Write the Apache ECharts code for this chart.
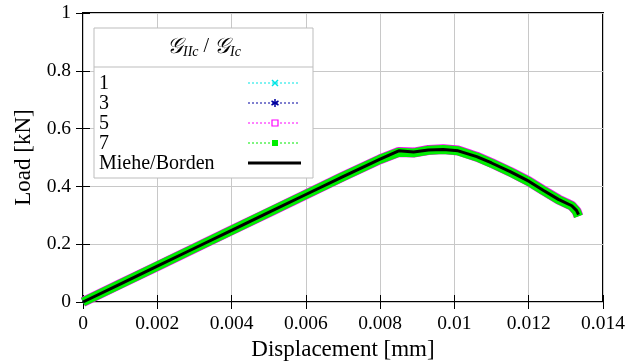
<!DOCTYPE html>
<html><head><meta charset="utf-8">
<script src="https://cdn.jsdelivr.net/npm/echarts@6/dist/echarts.min.js"></script>
<style>html,body{margin:0;padding:0;background:#fff}#c{width:625px;height:363px}</style>
</head><body><div id="c"></div>
<script>
const dispX = [0, 0.001, 0.002, 0.003, 0.004, 0.005, 0.006, 0.007, 0.008, 0.0085, 0.0089, 0.0093, 0.0097, 0.0101, 0.0106, 0.011, 0.0115, 0.012, 0.0124, 0.0128, 0.01316, 0.01329, 0.01334];
const loadRatio1 = [0, 0.062, 0.124, 0.186, 0.248, 0.31, 0.372, 0.434, 0.494, 0.521, 0.518, 0.526, 0.528, 0.523, 0.503, 0.481, 0.451, 0.418, 0.386, 0.355, 0.333, 0.315, 0.298];
const loadRatio3 = [0, 0.062, 0.124, 0.186, 0.248, 0.31, 0.372, 0.434, 0.494, 0.521, 0.518, 0.526, 0.528, 0.523, 0.503, 0.481, 0.451, 0.418, 0.386, 0.355, 0.333, 0.315, 0.298];
const loadRatio5 = [0, 0.062, 0.124, 0.186, 0.248, 0.31, 0.372, 0.434, 0.494, 0.519, 0.517, 0.526, 0.529, 0.524, 0.503, 0.481, 0.451, 0.418, 0.386, 0.355, 0.333, 0.314, 0.297];
const loadRatio7 = [0, 0.062, 0.124, 0.186, 0.248, 0.31, 0.372, 0.434, 0.494, 0.518, 0.516, 0.525, 0.528, 0.523, 0.502, 0.480, 0.450, 0.417, 0.385, 0.354, 0.332, 0.313, 0.296];
const loadMiehe = [0, 0.062, 0.124, 0.186, 0.248, 0.31, 0.372, 0.434, 0.494, 0.523, 0.519, 0.526, 0.528, 0.523, 0.503, 0.481, 0.451, 0.418, 0.386, 0.355, 0.333, 0.316, 0.302];
const xTicks = [0, 0.002, 0.004, 0.006, 0.008, 0.01, 0.012, 0.014];
const yTicks = [0, 0.2, 0.4, 0.6, 0.8, 1];
const legendNames = ['1', '3', '5', '7', 'Miehe/Borden'];

const chart = echarts.init(document.getElementById('c'));
const pts = arr => dispX.map((x, i) => [x, arr[i]]);
const FONT = 'Liberation Serif';
const fmt = v => String(parseFloat(v.toFixed(4)));
const axisBase = {
  type: 'value',
  axisLine: {show: false},
  axisTick: {show: true, inside: true, length: 7, lineStyle: {color: '#000', width: 1}},
  splitLine: {show: false}
};
const option = {
  animation: false,
  backgroundColor: '#fff',
  grid: {left: 83, right: 22, top: 13, bottom: 61, containLabel: false, outerBoundsMode: 'none',
    show: true, borderColor: '#000', borderWidth: 2, backgroundColor: 'transparent'},
  xAxis: [
    Object.assign({}, axisBase, {min: xTicks[0], max: xTicks[xTicks.length - 1], interval: 0.002, position: 'bottom',
      splitLine: {show: true, lineStyle: {color: '#c8c8c8', width: 1}},
      axisLabel: {formatter: fmt, color: '#000', fontFamily: FONT, fontSize: 19.5, margin: 12},
      name: 'Displacement [mm]', nameLocation: 'middle', nameGap: 36,
      nameTextStyle: {color: '#000', fontFamily: FONT, fontSize: 23}}),
    Object.assign({}, axisBase, {min: xTicks[0], max: xTicks[xTicks.length - 1], interval: 0.002, position: 'top', axisLabel: {show: false}})
  ],
  yAxis: [
    Object.assign({}, axisBase, {min: yTicks[0], max: yTicks[yTicks.length - 1], interval: 0.2, position: 'left',
      splitLine: {show: true, lineStyle: {color: '#c8c8c8', width: 1}},
      axisLabel: {formatter: fmt, color: '#000', fontFamily: FONT, fontSize: 19.5, margin: 12},
      name: 'Load [kN]', nameLocation: 'middle', nameGap: 47, nameRotate: 90,
      nameTextStyle: {color: '#000', fontFamily: FONT, fontSize: 23}}),
    Object.assign({}, axisBase, {min: yTicks[0], max: yTicks[yTicks.length - 1], interval: 0.2, position: 'right', axisLabel: {show: false}})
  ],
  series: [
    {name: legendNames[0], type: 'line', data: pts(loadRatio1), showSymbol: false, lineStyle: {color: '#00e5e5', width: 6}, z: 2},
    {name: legendNames[1], type: 'line', data: pts(loadRatio3), showSymbol: false, lineStyle: {color: '#0000a0', width: 7}, z: 3},
    {name: legendNames[2], type: 'line', data: pts(loadRatio5), showSymbol: false, lineStyle: {color: '#ff00ff', width: 10}, z: 4},
    {name: legendNames[3], type: 'line', data: pts(loadRatio7), showSymbol: false, lineStyle: {color: '#00ee00', width: 9}, z: 5},
    {name: legendNames[4], type: 'line', data: pts(loadMiehe), showSymbol: false, lineStyle: {color: '#000', width: 3}, z: 6}
  ],
  graphic: []
};
const lx = 94, ly = 28, lw = 219, lh = 150;
const g = option.graphic;
g.push({type: 'rect', shape: {x: lx, y: ly, width: lw, height: lh}, style: {fill: '#fff', stroke: '#bdbdbd', lineWidth: 1}, z: 100});
g.push({type: 'line', shape: {x1: lx, y1: 67, x2: lx + lw, y2: 67}, style: {stroke: '#bdbdbd', lineWidth: 1}, z: 101});
g.push({type: 'text', x: 204, y: 47, z: 102, style: {
  text: '{g|𝒢}{s|IIc}{t| / }{g|𝒢}{s|Ic}', align: 'center', verticalAlign: 'middle',
  rich: {
    g: {fontFamily: 'DejaVu Serif', fontStyle: 'italic', fontSize: 22, fill: '#000'},
    s: {fontFamily: FONT, fontStyle: 'italic', fontSize: 14, fill: '#000', padding: [10, 0, 0, 0]},
    t: {fontFamily: FONT, fontSize: 20, fill: '#000'}
  }}});
const colors = ['#00e5e5', '#0000a0', '#ff00ff', '#00ee00', '#000'];
const rowsY = [83, 103, 123, 143, 163];
rowsY.forEach((y, i) => {
  g.push({type: 'text', x: 99, y: y + 1, z: 102, style: {text: legendNames[i], fontFamily: FONT, fontSize: 20, fill: '#000', verticalAlign: 'middle'}});
  if (i < 4) {
    g.push({type: 'line', shape: {x1: 248, y1: y, x2: 300, y2: y}, style: {stroke: colors[i], lineWidth: 1, lineDash: [2, 2]}, z: 102});
  } else {
    g.push({type: 'line', shape: {x1: 248, y1: y, x2: 301, y2: y}, style: {stroke: '#000', lineWidth: 3}, z: 102});
  }
});
const mx = 275;
g.push({type: 'polyline', shape: {points: [[mx - 3, rowsY[0] - 3], [mx + 3, rowsY[0] + 3]]}, style: {stroke: colors[0], lineWidth: 1.5}, z: 103});
g.push({type: 'polyline', shape: {points: [[mx - 3, rowsY[0] + 3], [mx + 3, rowsY[0] - 3]]}, style: {stroke: colors[0], lineWidth: 1.5}, z: 103});
[[0, 4], [3.5, 2], [3.5, -2]].forEach(([dx, dy]) => {
  g.push({type: 'polyline', shape: {points: [[mx - dx, rowsY[1] - dy], [mx + dx, rowsY[1] + dy]]}, style: {stroke: colors[1], lineWidth: 1.5}, z: 103});
});
g.push({type: 'rect', shape: {x: mx - 3, y: rowsY[2] - 3, width: 6, height: 6}, style: {fill: '#fff', stroke: colors[2], lineWidth: 1.2}, z: 103});
g.push({type: 'rect', shape: {x: mx - 3, y: rowsY[3] - 3, width: 6, height: 6}, style: {fill: colors[3]}, z: 103});
chart.setOption(option);
</script></body></html>
